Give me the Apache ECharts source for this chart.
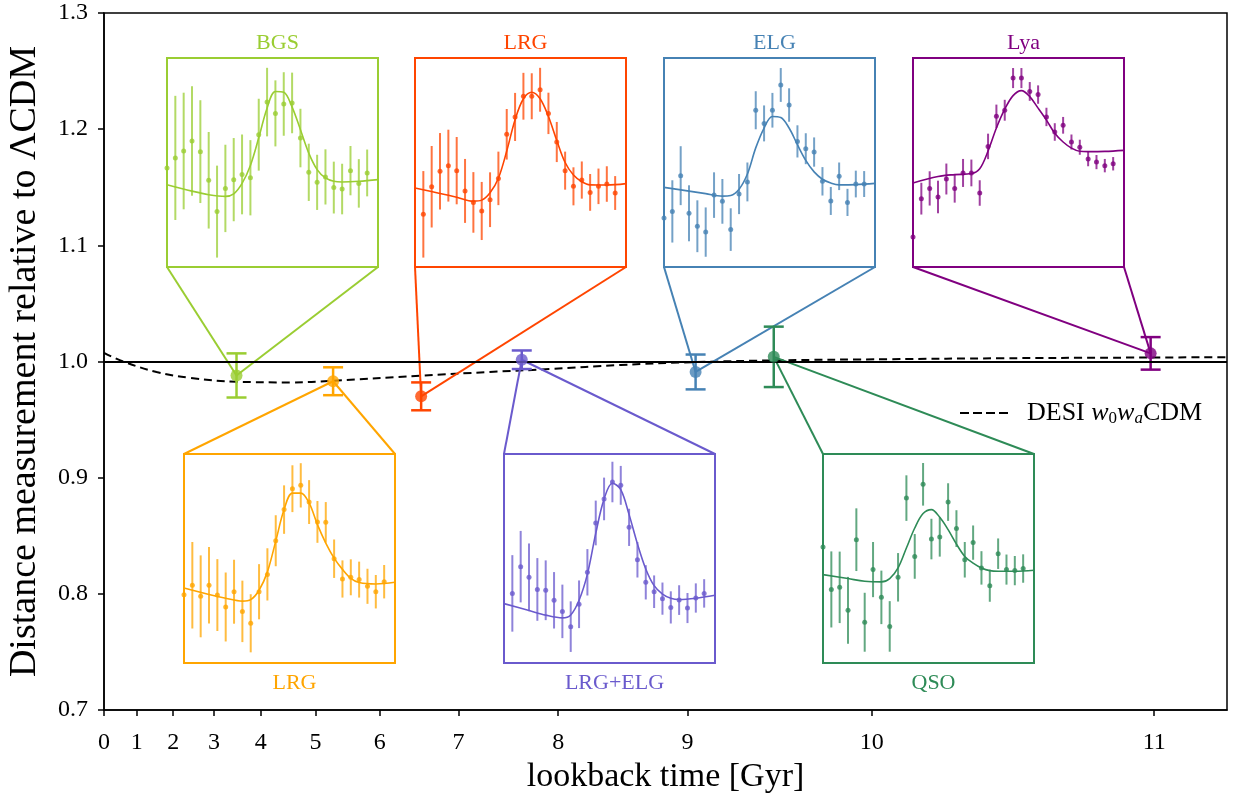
<!DOCTYPE html>
<html>
<head>
<meta charset="utf-8">
<script src="https://cdn.jsdelivr.net/npm/echarts@6/dist/echarts.min.js"></script>
<style>
  html, body { margin: 0; padding: 0; background: #fff; }
  #main { width: 1233px; height: 795px; }
</style>
</head>
<body>
<div id="main"></div>
<script>
var FONT = 'Liberation Serif';

// x axis is linear in redshift, labelled with lookback time
var lookbackLabels = ['0', '1', '2', '3', '4', '5', '6', '7', '8', '9', '10', '11'];
var lookbackTickZ = [0, 0.0728, 0.154, 0.245, 0.349, 0.471, 0.614, 0.789, 1.011, 1.299, 1.709, 2.338];

// main measurements
var tracerNames = ['BGS', 'LRG', 'LRG', 'LRG+ELG', 'ELG', 'QSO', 'Lya'];
var tracerZ = [0.295, 0.51, 0.706, 0.93, 1.317, 1.491, 2.33];
var tracerVal = [0.988, 0.983, 0.970, 1.0015, 0.991, 1.004, 1.007];
var tracerErr = [0.019, 0.012, 0.012, 0.008, 0.015, 0.026, 0.014];
var tracerColor = ['#9acd32', '#ffa500', '#ff4500', '#6a5acd', '#4682b4', '#2e8b57', '#800080'];

// DESI w0waCDM curve
var dashZ = [0, 0.043, 0.117, 0.191, 0.295, 0.414, 0.51, 0.703, 0.859, 0.993, 1.15, 1.317, 1.5, 1.75, 2.0, 2.25, 2.5];
var dashVal = [1.0075, 1.0, 0.991, 0.986, 0.9826, 0.982, 0.9834, 0.9877, 0.991, 0.9935, 0.997, 0.9995, 1.001, 1.002, 1.0028, 1.0033, 1.0037];

// inset panels: points at x = 0..24, values in % of box height
var bgsPts = [47.4, 52.2, 55.5, 60.3, 55.2, 41.5, 26.5, 37.6, 41.8, 44.3, 42.7, 63.3, 78.9, 73.5, 78, 78.5, 61.7, 45.3, 40.5, 43.1, 38, 37.3, 46.1, 40, 45];
var bgsErr = [30, 29.7, 27.9, 26.2, 24.6, 23.1, 22, 20.9, 19.9, 19.1, 18, 17.2, 16.4, 15.8, 15.2, 14.5, 14, 13.7, 13.2, 13.2, 12.4, 12.1, 11.8, 11.6, 11.2];
var lrg1Pts = [32.7, 37.2, 31.9, 37.2, 32.5, 26.8, 34.1, 24.7, 19, 34.1, 42.4, 58.5, 73.4, 83.4, 85, 77, 67.5, 67.3, 49.9, 40.2, 41, 39.9, 36.7, 34.1, 38.9];
var lrg1Err = [20, 20.7, 19.6, 18.3, 17.2, 16.5, 15.3, 14.7, 13.9, 13.2, 12.5, 12.2, 11.6, 11.2, 10.6, 10.5, 10, 9.7, 9.2, 8.9, 8.6, 8.6, 8.4, 8, 8];
var lrg2Pts = [null, 25.2, 38.4, 45.8, 48.5, 46.1, 36.4, 30.9, 26.8, 32.2, 42.4, 63.5, 71.8, 81.7, 81.7, 84.8, 73.5, 59.8, 46.1, 38.6, 41.6, 35.7, 38.6, 39.7, 35.4];
var lrg2Err = [0, 20.7, 19.5, 18.3, 17.2, 16.1, 15.3, 14.5, 13.9, 13.1, 12.8, 12.1, 11.5, 11.2, 11, 10.5, 9.9, 9.6, 9.1, 9.1, 8.9, 8.8, 8.5, 8.5, 8.1];
var lrgElgPts = [null, 33.3, 46.1, 41, 35.2, 34.8, 30, 24.7, 17.4, 28.1, 43.4, 67, 78.5, 86.6, 85, 64.9, 49.4, 38.6, 34.1, 30.8, 26.6, 30.1, 26.3, 31.1, 33.3];
var lrgElgErr = [0, 18.3, 17.1, 16.2, 15, 14.3, 13.5, 12.8, 12.1, 11.4, 11.1, 10.7, 10.2, 9.7, 9.3, 8.9, 8.5, 8.2, 7.8, 7.7, 7.7, 7.1, 7.2, 7, 6.8];
var elgPts = [23.4, 26.6, 43.7, 25.7, 19.5, 16.7, 34.4, 31.4, 17.9, 34.9, 40.7, 75, 68.7, 75, 87.1, 77.5, 60.1, 56.6, 55, 41, 31.6, 43.4, 30.9, 39.7, 39.7];
var elgErr = [10, 14.9, 14.1, 13.4, 12.4, 11.8, 10.9, 10.7, 10.2, 9.6, 9.3, 9.1, 8.6, 8.3, 8.1, 8, 7.7, 7.4, 7, 6.8, 6.7, 6.6, 6.5, 6.4, 6.2];
var qsoPts = [55.5, 35.2, 36.2, 25.2, 59, 19.5, 44.7, 31.4, 17.5, 41, 78.9, 51, 85.5, 59.3, 60.3, 77, 64.3, 49.4, 57.6, 45.5, 37, 52.3, 44.7, 44.2, 45.2];
var qsoErr = [18, 18.2, 17.1, 16, 15, 14.1, 13.2, 12.8, 12.1, 11.6, 10.9, 10.7, 10.2, 9.7, 9.4, 9, 8.8, 8.5, 8.2, 8, 7.7, 7.3, 7.2, 7, 6.8];
var lyaPts = [14.4, 32.7, 37.6, 33.5, 42.1, 37.6, 45, 45, 35.4, 57.7, 72.1, 75, 90.4, 90.4, 84, 82.5, 71.8, 64.6, 67.8, 59.8, 57.3, 51.7, 50.2, 48.5, 49.4];
var lyaErr = [5, 7.6, 8.2, 7.8, 7.4, 6.8, 6.7, 6.4, 6.1, 6.1, 5.6, 5, 4.8, 4.8, 4.5, 4.4, 4.4, 4.2, 4, 3.6, 3.6, 3.5, 3.4, 3.2, 3.2];

// best-fit model curves in the insets
var modelX = [0, 3, 5, 7, 8, 9, 10, 11, 12, 13, 14, 15, 16, 17, 18, 19, 20, 21, 23, 25.3];
var bgsModel = [39.4, 36.3, 34.6, 33.8, 35, 40, 48.6, 61.8, 76, 84, 83.6, 76.5, 65.7, 54.5, 46.6, 42.6, 41, 40.7, 41, 41.8];
var lrg1Model = [35.9, 32.8, 31, 29.6, 30.3, 34.8, 43.6, 58.3, 73.4, 81.3, 81.3, 76.6, 66.2, 57.4, 50.2, 44.8, 40.5, 38.5, 37.8, 38.6];
var lrg2Model = [37.8, 35.2, 33.4, 31.5, 32, 35.5, 42.5, 55.5, 70.5, 80.5, 83.6, 80.5, 72, 60.5, 50, 44, 40.8, 39.3, 39.2, 39.9];
var lrgElgModel = [28.4, 25.1, 22.9, 21.6, 23, 30, 42.5, 62, 78.5, 86, 83, 71, 57, 45, 37, 33, 31, 30.4, 31, 32.4];
var elgModel = [38.1, 36.3, 35.1, 33.9, 34.2, 37.2, 44.5, 57, 66.5, 72, 71.5, 66.5, 58.5, 51, 45.5, 42, 40.2, 39.3, 39.4, 40];
var qsoModel = [42.3, 40.4, 39.1, 38.8, 40.4, 45.5, 55, 64.6, 71.5, 73.4, 69.7, 63.8, 56.9, 51, 47.8, 45.5, 44.2, 43.9, 43.9, 44.4];
var lyaModel = [40.2, 43.3, 44.2, 44.7, 47, 55.5, 66.5, 75.5, 82, 84.4, 81.5, 76, 70.3, 64, 59.8, 56.9, 55.4, 55.2, 55.3, 55.8];

var insetPts = [bgsPts, lrg1Pts, lrg2Pts, lrgElgPts, elgPts, qsoPts, lyaPts];
var insetErr = [bgsErr, lrg1Err, lrg2Err, lrgElgErr, elgErr, qsoErr, lyaErr];
var insetModel = [bgsModel, lrg1Model, lrg2Model, lrgElgModel, elgModel, qsoModel, lyaModel];

// inset boxes (pixels) and whether they sit above the data
var insetLeft = [167, 184, 415, 504, 664, 823, 913];
var insetTop = [58, 454, 58, 454, 58, 454, 58];
var insetAbove = [true, false, true, false, true, false, true];
var BOX_W = 211, BOX_H = 209;

var chart = echarts.init(document.getElementById('main'));

var grids = [{ left: 104, top: 13, right: 6, bottom: 85, show: true, borderColor: '#000', borderWidth: 1.5,
  outerBoundsMode: 'none', containLabel: false }];
var xAxes = [{
  type: 'value', min: 0, max: 2.5, gridIndex: 0,
  name: 'lookback time [Gyr]', nameLocation: 'middle', nameGap: 42,
  nameTextStyle: { fontFamily: FONT, fontSize: 34, color: '#000' },
  axisLine: { lineStyle: { color: '#000', width: 1.5 } },
  axisTick: { show: true, length: 6, customValues: lookbackTickZ, lineStyle: { color: '#000', width: 1.5 } },
  axisLabel: {
    customValues: lookbackTickZ, margin: 21, color: '#000', fontFamily: FONT, fontSize: 24,
    formatter: function (v) {
      var best = 0;
      for (var i = 1; i < lookbackTickZ.length; i++) {
        if (Math.abs(lookbackTickZ[i] - v) < Math.abs(lookbackTickZ[best] - v)) best = i;
      }
      return lookbackLabels[best];
    }
  },
  splitLine: { show: false }
}];
var yAxes = [{
  type: 'value', min: 0.7, max: 1.3, interval: 0.1, gridIndex: 0,
  name: 'Distance measurement relative to \u039BCDM', nameLocation: 'middle', nameGap: 60,
  nameTextStyle: { fontFamily: FONT, fontSize: 38, color: '#000' },
  axisLine: { show: true, lineStyle: { color: '#000', width: 1.5 } },
  axisTick: { show: true, length: 6, lineStyle: { color: '#000', width: 1.5 } },
  axisLabel: { color: '#000', fontFamily: FONT, fontSize: 24, margin: 16,
    formatter: function (v) { return v.toFixed(1); } },
  splitLine: { show: false }
}];

var series = [];

series.push({
  name: 'DESI w0waCDM', type: 'line', xAxisIndex: 0, yAxisIndex: 0,
  data: dashZ.map(function (z, i) { return [z, dashVal[i]]; }),
  smooth: 0.4, symbol: 'none', z: 2,
  lineStyle: { color: '#000', width: 2, type: [8, 5] },
  itemStyle: { color: '#000' },
  markLine: {
    silent: true, symbol: 'none', label: { show: false },
    lineStyle: { color: '#000', width: 2, type: 'solid' },
    data: [{ yAxis: 1.0 }]
  }
});

// main error bars with caps
series.push({
  type: 'custom', xAxisIndex: 0, yAxisIndex: 0, z: 4,
  data: tracerZ.map(function (z, i) { return [z, tracerVal[i], tracerErr[i], i]; }),
  renderItem: function (params, api) {
    var x = api.value(0), y = api.value(1), e = api.value(2), idx = api.value(3);
    var top = api.coord([x, y + e]);
    var bot = api.coord([x, y - e]);
    var c = tracerColor[idx];
    var cap = 10;
    var st = { stroke: c, lineWidth: 2.5 };
    return { type: 'group', children: [
      { type: 'line', shape: { x1: top[0], y1: top[1], x2: bot[0], y2: bot[1] }, style: st },
      { type: 'line', shape: { x1: top[0] - cap, y1: top[1], x2: top[0] + cap, y2: top[1] }, style: st },
      { type: 'line', shape: { x1: bot[0] - cap, y1: bot[1], x2: bot[0] + cap, y2: bot[1] }, style: st }
    ] };
  }
});

series.push({
  type: 'scatter', xAxisIndex: 0, yAxisIndex: 0, z: 5, symbolSize: 12,
  data: tracerZ.map(function (z, i) {
    return { value: [z, tracerVal[i]], itemStyle: { color: tracerColor[i] } };
  })
});

// insets
var titles = [];
for (var k = 0; k < insetPts.length; k++) {
  var gi = k + 1;
  var col = tracerColor[k];
  grids.push({ left: insetLeft[k], top: insetTop[k], width: BOX_W, height: BOX_H,
    show: true, borderColor: col, borderWidth: 2, backgroundColor: '#fff',
    outerBoundsMode: 'none', containLabel: false });
  xAxes.push({ type: 'value', gridIndex: gi, min: 0, max: 25.3, show: false });
  yAxes.push({ type: 'value', gridIndex: gi, min: 0, max: 100, show: false });

  var pts = [];
  for (var j = 0; j < insetPts[k].length; j++) {
    if (insetPts[k][j] !== null) pts.push([j, insetPts[k][j], insetErr[k][j]]);
  }
  (function (c) {
    series.push({
      type: 'custom', xAxisIndex: gi, yAxisIndex: gi, z: 6, data: pts,
      renderItem: function (params, api) {
        var x = api.value(0), y = api.value(1), e = api.value(2);
        var a = api.coord([x, y + e]), b = api.coord([x, y - e]);
        return { type: 'line', shape: { x1: a[0], y1: a[1], x2: b[0], y2: b[1] },
          style: { stroke: c, lineWidth: 2, opacity: 0.75 } };
      }
    });
  })(col);
  series.push({
    type: 'scatter', xAxisIndex: gi, yAxisIndex: gi, z: 7, symbolSize: 5,
    data: pts.map(function (p) { return [p[0], p[1]]; }),
    itemStyle: { color: col }
  });
  series.push({
    type: 'line', xAxisIndex: gi, yAxisIndex: gi, z: 7, smooth: 0.35, symbol: 'none',
    data: modelX.map(function (x, i) { return [x, insetModel[k][i]]; }),
    lineStyle: { color: col, width: 1.6 }
  });

  titles.push({
    text: tracerNames[k],
    left: insetLeft[k] + BOX_W / 2,
    top: insetAbove[k] ? insetTop[k] - 31 : insetTop[k] + BOX_H + 4,
    textAlign: 'center',
    textStyle: { fontFamily: FONT, fontSize: 22, fontWeight: 'normal', color: col }
  });
}

var option = {
  animation: false,
  backgroundColor: '#fff',
  title: titles,
  grid: grids,
  xAxis: xAxes,
  yAxis: yAxes,
  legend: {
    data: [{ name: 'DESI w0waCDM',
      icon: 'path://M0,0H9V2H0Z M13,0H22V2H13Z M26,0H35V2H26Z M39,0H48V2H39Z' }],
    left: 955, top: 395,
    itemWidth: 48, itemHeight: 2.5,
    itemStyle: { color: '#000' },
    textStyle: {
      fontFamily: FONT, fontSize: 26, color: '#000',
      rich: {
        n0: { fontFamily: FONT, fontSize: 26, color: '#000', padding: [0, 0, 0, 14] },
        i: { fontFamily: FONT, fontSize: 26, fontStyle: 'italic', color: '#000' },
        s: { fontFamily: FONT, fontSize: 17, color: '#000', padding: [12, 0, 0, 0] },
        si: { fontFamily: FONT, fontSize: 17, fontStyle: 'italic', color: '#000', padding: [12, 0, 0, 0] },
        n: { fontFamily: FONT, fontSize: 26, color: '#000' }
      }
    },
    formatter: function () { return '{n0|DESI }{i|w}{s|0}{i|w}{si|a}{n|CDM}'; }
  },
  series: series
};

chart.setOption(option);

// connector lines from inset box corners to the measurement
var connectors = [];
for (var m = 0; m < tracerZ.length; m++) {
  var p = chart.convertToPixel({ gridIndex: 0 }, [tracerZ[m], tracerVal[m]]);
  var cy = insetAbove[m] ? insetTop[m] + BOX_H : insetTop[m];
  [insetLeft[m], insetLeft[m] + BOX_W].forEach(function (cx) {
    connectors.push({
      type: 'line', z: 3,
      shape: { x1: cx, y1: cy, x2: p[0], y2: p[1] },
      style: { stroke: tracerColor[m], lineWidth: 2 }
    });
  });
}
chart.setOption({ graphic: connectors });
</script>
</body>
</html>
